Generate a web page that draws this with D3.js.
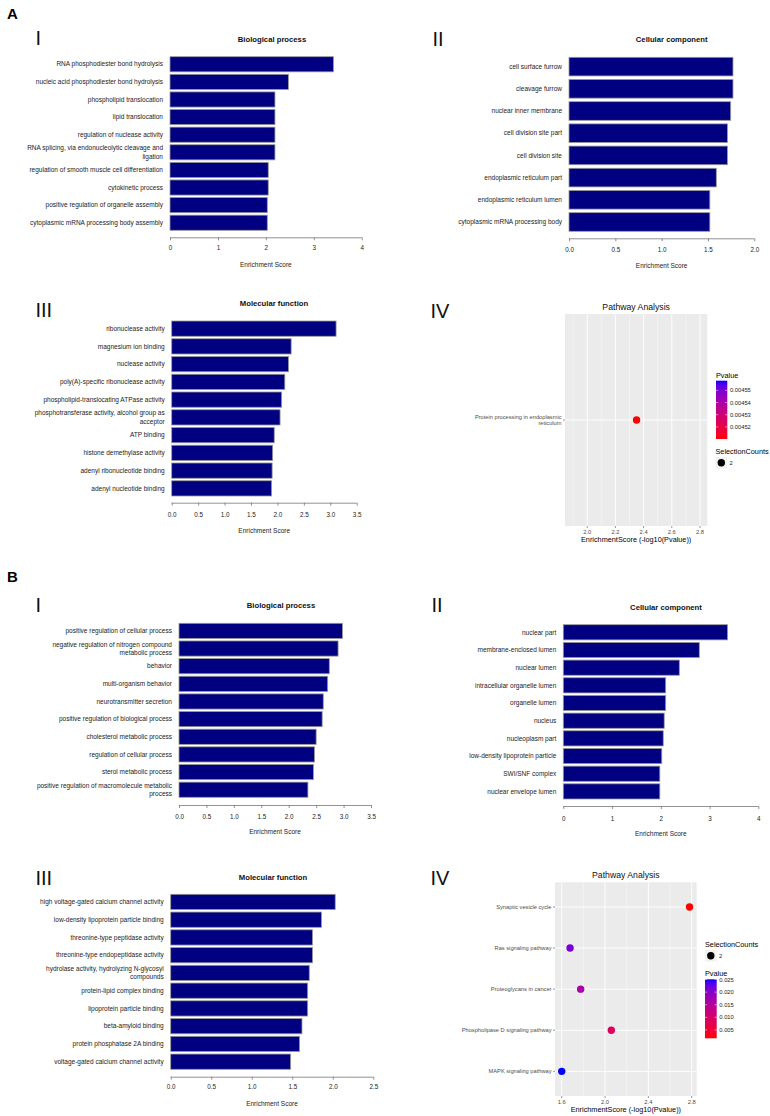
<!DOCTYPE html>
<html><head><meta charset="utf-8">
<script src="https://cdn.jsdelivr.net/npm/d3@7"></script>
<style>body{margin:0;background:#fff}svg{display:block}</style>
</head><body><svg id="c" width="770" height="1116"></svg>
<script>
// ---------- DATA ----------
const a1Cats = ["RNA phosphodiester bond hydrolysis","nucleic acid phosphodiester bond hydrolysis","phospholipid translocation","lipid translocation","regulation of nuclease activity","RNA splicing, via endonucleolytic cleavage and\nligation","regulation of smooth muscle cell differentiation","cytokinetic process","positive regulation of organelle assembly","cytoplasmic mRNA processing body assembly"];
const a1Vals = [3.41,2.47,2.19,2.19,2.19,2.19,2.05,2.05,2.03,2.03];
const a1Ticks = [0,1,2,3,4];

const a2Cats = ["cell surface furrow","cleavage furrow","nuclear inner membrane","cell division site part","cell division site","endoplasmic reticulum part","endoplasmic reticulum lumen","cytoplasmic mRNA processing body"];
const a2Vals = [1.77,1.77,1.745,1.71,1.71,1.59,1.52,1.52];
const a2Ticks = [0,0.5,1.0,1.5,2.0];

const a3Cats = ["ribonuclease activity","magnesium ion binding","nuclease activity","poly(A)-specific ribonuclease activity","phospholipid-translocating ATPase activity","phosphotransferase activity, alcohol group as\nacceptor","ATP binding","histone demethylase activity","adenyl ribonucleotide binding","adenyl nucleotide binding"];
const a3Vals = [3.11,2.26,2.21,2.14,2.08,2.05,1.94,1.91,1.90,1.89];
const a3Ticks = [0,0.5,1.0,1.5,2.0,2.5,3.0,3.5];

const a4Paths = ["Protein processing in endoplasmic\nreticulum"];
const a4Scores = [2.35];
const a4Pvals = [0.00451];
const a4Counts = [2];
const a4XTicks = [2.0,2.2,2.4,2.6,2.8];
const a4XMinor = [1.9,2.1,2.3,2.5,2.7];
const a4PLimits = [0.00451,0.004558];
const a4PTicks = [0.00452,0.00453,0.00454,0.00455];

const b1Cats = ["positive regulation of cellular process","negative regulation of nitrogen compound\nmetabolic process","behavior","multi-organism behavior","neurotransmitter secretion","positive regulation of biological process","cholesterol metabolic process","regulation of cellular process","sterol metabolic process","positive regulation of macromolecule metabolic\nprocess"];
const b1Vals = [2.98,2.90,2.74,2.71,2.63,2.61,2.50,2.47,2.45,2.35];
const b1Ticks = [0,0.5,1.0,1.5,2.0,2.5,3.0,3.5];

const b2Cats = ["nuclear part","membrane-enclosed lumen","nuclear lumen","intracellular organelle lumen","organelle lumen","nucleus","nucleoplasm part","low-density lipoprotein particle","SWI/SNF complex","nuclear envelope lumen"];
const b2Vals = [3.37,2.79,2.38,2.10,2.10,2.07,2.05,2.02,1.98,1.98];
const b2Ticks = [0,1,2,3,4];

const b3Cats = ["high voltage-gated calcium channel activity","low-density lipoprotein particle binding","threonine-type peptidase activity","threonine-type endopeptidase activity","hydrolase activity, hydrolyzing N-glycosyl\ncompounds","protein-lipid complex binding","lipoprotein particle binding","beta-amyloid binding","protein phosphatase 2A binding","voltage-gated calcium channel activity"];
const b3Vals = [2.03,1.86,1.75,1.75,1.71,1.69,1.69,1.62,1.59,1.48];
const b3Ticks = [0,0.5,1.0,1.5,2.0,2.5];

const b4Paths = ["Synaptic vesicle cycle","Ras signaling pathway","Proteoglycans in cancer","Phospholipase D signaling pathway","MAPK signaling pathway"];
const b4Scores = [2.78,1.677,1.775,2.058,1.60];
const b4Pvals = [0.00166,0.0210,0.0168,0.00875,0.0251];
const b4Counts = [2,2,2,2,2];
const b4XTicks = [1.6,2.0,2.4,2.8];
const b4XMinor = [1.8,2.2,2.6];
const b4PTicks = [0.005,0.010,0.015,0.020,0.025];

// ---------- DRAW ----------
const svg = d3.select("#c");
const FONT = "'Liberation Sans', Arial, Helvetica, sans-serif";
svg.attr("font-family", FONT);

function txt(x, y, s, size, opts = {}) {
  return svg.append("text").attr("x", x).attr("y", y).text(s)
    .attr("font-size", size)
    .attr("font-weight", opts.bold ? "bold" : "normal")
    .attr("text-anchor", opts.anchor || "start")
    .attr("fill", opts.fill || "#000");
}

function barPanel(o) {
  const g = svg.append("g");
  const x = d3.scaleLinear().domain([0, d3.max(o.ticks)]).range([o.x0, o.x1]);
  const n = o.cats.length, p = o.pad;
  const step = (o.yBot - o.yTop) / (n - p);
  const y = d3.scaleBand().domain(o.cats)
    .range([o.yTop - p * step / 2, o.yBot + p * step / 2])
    .paddingInner(p).paddingOuter(p / 2);
  g.selectAll("rect.bar").data(o.cats).join("rect")
    .attr("x", x(0)).attr("y", d => y(d))
    .attr("width", (d, i) => x(o.vals[i]) - x(0))
    .attr("height", y.bandwidth())
    .attr("fill", "#000080").attr("stroke", "#9a9a9a").attr("stroke-width", 0.8);
  o.cats.forEach(c => {
    const lines = c.split("\n");
    const cy = y(c) + y.bandwidth() / 2;
    const lh = 8.3;
    lines.forEach((ln, k) => {
      g.append("text").attr("x", x(0) - 7)
        .attr("y", cy + (k - (lines.length - 1) / 2) * lh + 2.2)
        .attr("text-anchor", "end").attr("font-size", 6.5).attr("fill", "#222").text(ln);
    });
  });
  const ax = g.append("g").attr("transform", `translate(0,${o.axisY})`)
    .call(d3.axisBottom(x).tickValues(o.ticks).tickSize(3).tickSizeOuter(0).tickFormat(o.fmt));
  ax.select(".domain").attr("stroke", "#777").attr("stroke-width", 0.8).attr("d", `M${o.x0},0.5H${o.x1}`);
  ax.selectAll(".tick line").attr("stroke", "#777").attr("stroke-width", 0.8);
  ax.selectAll(".tick text").attr("y", o.tickY - o.axisY).attr("dy", 0)
    .attr("font-size", 6.3).attr("fill", "#222").attr("font-family", FONT);
  txt((o.x0 + o.x1) / 2, o.xTitleY, "Enrichment Score", 6.5, { anchor: "middle", fill: "#222" });
  txt(o.titleX, o.titleY, o.title, 7.7, { anchor: "middle", bold: true, fill: "#111" });
}

function pathPanel(o) {
  const g = svg.append("g");
  const x = d3.scaleLinear().domain(o.xDom).range([o.left, o.right]);
  const y = d3.scalePoint().domain(o.paths).range([o.top, o.bottom]).padding(0.6);
  const col = d3.scaleLinear().domain(o.pLim).range(["#FF0000", "#0000FF"]).interpolate(d3.interpolateLab).clamp(true);
  g.append("rect").attr("x", o.left).attr("y", o.top).attr("width", o.right - o.left)
    .attr("height", o.bottom - o.top).attr("fill", "#EBEBEB");
  g.selectAll("line.minor").data(o.minor).join("line")
    .attr("x1", d => x(d)).attr("x2", d => x(d)).attr("y1", o.top).attr("y2", o.bottom)
    .attr("stroke", "#fff").attr("stroke-width", 0.4);
  g.selectAll("line.major").data(o.ticks).join("line")
    .attr("x1", d => x(d)).attr("x2", d => x(d)).attr("y1", o.top).attr("y2", o.bottom)
    .attr("stroke", "#fff").attr("stroke-width", 0.9);
  g.selectAll("line.hmaj").data(o.paths).join("line")
    .attr("x1", o.left).attr("x2", o.right).attr("y1", d => y(d)).attr("y2", d => y(d))
    .attr("stroke", "#fff").attr("stroke-width", 0.9);
  g.selectAll("circle.pt").data(o.paths).join("circle")
    .attr("cx", (d, i) => x(o.scores[i])).attr("cy", d => y(d)).attr("r", 3.7)
    .attr("fill", (d, i) => col(o.pvals[i]));
  o.paths.forEach(pth => {
    const lines = pth.split("\n");
    const cy = y(pth);
    g.append("line").attr("x1", o.left - 2).attr("x2", o.left).attr("y1", cy).attr("y2", cy)
      .attr("stroke", "#333").attr("stroke-width", 0.5);
    lines.forEach((ln, k) => {
      g.append("text").attr("x", o.left - 3.5)
        .attr("y", cy + (k - (lines.length - 1) / 2) * 6.6 + 2)
        .attr("text-anchor", "end").attr("font-size", 5.7).attr("fill", "#4D4D4D").text(ln);
    });
  });
  o.ticks.forEach(t => {
    g.append("line").attr("x1", x(t)).attr("x2", x(t)).attr("y1", o.bottom).attr("y2", o.bottom + 2)
      .attr("stroke", "#333").attr("stroke-width", 0.5);
    g.append("text").attr("x", x(t)).attr("y", o.bottom + 8.3).attr("text-anchor", "middle")
      .attr("font-size", 5.8).attr("fill", "#4D4D4D").text(d3.format(".1f")(t));
  });
  txt((o.left + o.right) / 2, o.bottom + 16, "EnrichmentScore (-log10(Pvalue))", 7.3, { anchor: "middle" });
  txt((o.left + o.right) / 2, o.top - 4, "Pathway Analysis", 8.7, { anchor: "middle", fill: "#111" });
  const L = o.legP;
  txt(L.x, L.titleY, "Pvalue", 7.3);
  const gid = "grad" + o.id;
  const grad = svg.append("defs").append("linearGradient").attr("id", gid)
    .attr("x1", 0).attr("x2", 0).attr("y1", 1).attr("y2", 0);
  d3.range(0, 1.0001, 0.05).forEach(f => {
    grad.append("stop").attr("offset", f).attr("stop-color", col(o.pLim[0] + f * (o.pLim[1] - o.pLim[0])));
  });
  const cb = d3.scaleLinear().domain(o.pLim).range([L.bot, L.top]);
  g.append("rect").attr("x", L.x).attr("y", L.top).attr("width", L.w).attr("height", L.bot - L.top)
    .attr("fill", `url(#${gid})`);
  o.pTicks.forEach(t => {
    const yy = cb(t);
    g.append("line").attr("x1", L.x).attr("x2", L.x + 2.2).attr("y1", yy).attr("y2", yy).attr("stroke", "#fff").attr("stroke-width", 0.5);
    g.append("line").attr("x1", L.x + L.w - 2.2).attr("x2", L.x + L.w).attr("y1", yy).attr("y2", yy).attr("stroke", "#fff").attr("stroke-width", 0.5);
    g.append("text").attr("x", L.x + L.w + 2.6).attr("y", yy + 2).attr("font-size", 5.8).attr("fill", "#222")
      .text(o.pFmt(t));
  });
  const S = o.legS;
  txt(S.x, S.titleY, "SelectionCounts", 7.3);
  g.append("rect").attr("x", S.x).attr("y", S.dotY - 5.8).attr("width", 11.6).attr("height", 11.6).attr("fill", "#F2F2F2");
  g.append("circle").attr("cx", S.x + 5.8).attr("cy", S.dotY).attr("r", 3.7).attr("fill", "#000");
  txt(S.x + 14, S.dotY + 2, String(o.counts[0]), 5.8, { fill: "#222" });
}

txt(7, 19, "A", 15, { bold: true });
txt(7, 582.3, "B", 15, { bold: true });
const numeral = (x, y, s) => txt(x, y, s, 20, { fill: "#111" });
numeral(35.5, 45, "I");
numeral(432.5, 46, "II");
numeral(35.5, 317, "III");
numeral(430.5, 318, "IV");
numeral(35.5, 612, "I");
numeral(431.5, 611.7, "II");
numeral(35.5, 885, "III");
numeral(430.5, 885, "IV");

const f0 = d3.format("d"), f1 = d3.format(".1f");

barPanel({ cats: a1Cats, vals: a1Vals, ticks: a1Ticks, fmt: f0, pad: 0.14,
  x0: 170, x1: 361.7, yTop: 56.7, yBot: 230.3, axisY: 237.3, tickY: 250.5, xTitleY: 266.5,
  title: "Biological process", titleX: 272, titleY: 41.5 });
barPanel({ cats: a2Cats, vals: a2Vals, ticks: a2Ticks, fmt: f1, pad: 0.16,
  x0: 569, x1: 754.3, yTop: 57.3, yBot: 231.3, axisY: 238.3, tickY: 252.3, xTitleY: 268,
  title: "Cellular component", titleX: 671.7, titleY: 41.5 });
barPanel({ cats: a3Cats, vals: a3Vals, ticks: a3Ticks, fmt: f1, pad: 0.14,
  x0: 171.7, x1: 356.7, yTop: 321, yBot: 496, axisY: 502.7, tickY: 517.3, xTitleY: 532.5,
  title: "Molecular function", titleX: 274, titleY: 306 });
barPanel({ cats: b1Cats, vals: b1Vals, ticks: b1Ticks, fmt: f1, pad: 0.14,
  x0: 179, x1: 371, yTop: 623.3, yBot: 797.3, axisY: 805, tickY: 819, xTitleY: 834,
  title: "Biological process", titleX: 281, titleY: 608 });
barPanel({ cats: b2Cats, vals: b2Vals, ticks: b2Ticks, fmt: f0, pad: 0.14,
  x0: 563.3, x1: 758.3, yTop: 624.7, yBot: 799, axisY: 806, tickY: 820.5, xTitleY: 835.5,
  title: "Cellular component", titleX: 666, titleY: 609.5 });
barPanel({ cats: b3Cats, vals: b3Vals, ticks: b3Ticks, fmt: f1, pad: 0.14,
  x0: 170.7, x1: 373.3, yTop: 894.3, yBot: 1069.3, axisY: 1076.7, tickY: 1089.5, xTitleY: 1105.5,
  title: "Molecular function", titleX: 273, titleY: 879.5 });

pathPanel({ id: "a4", paths: a4Paths, scores: a4Scores, pvals: a4Pvals, counts: a4Counts,
  ticks: a4XTicks, minor: a4XMinor, xDom: [1.842, 2.852], pLim: a4PLimits, pTicks: a4PTicks,
  pFmt: d3.format(".5f"),
  left: 565, right: 707.3, top: 314, bottom: 526,
  legP: { x: 716, titleY: 378.3, top: 380.7, bot: 439, w: 11.3 },
  legS: { x: 715.5, titleY: 454.3, dotY: 462.7 } });
pathPanel({ id: "b4", paths: b4Paths, scores: b4Scores, pvals: b4Pvals, counts: b4Counts,
  ticks: b4XTicks, minor: b4XMinor, xDom: [1.538, 2.846], pLim: d3.extent(b4Pvals), pTicks: b4PTicks,
  pFmt: d3.format(".3f"),
  left: 555, right: 696.7, top: 882.3, bottom: 1096,
  legP: { x: 705, titleY: 976.3, top: 979.3, bot: 1038.3, w: 11.7 },
  legS: { x: 705, titleY: 947, dotY: 955.7 } });
</script></body></html>
